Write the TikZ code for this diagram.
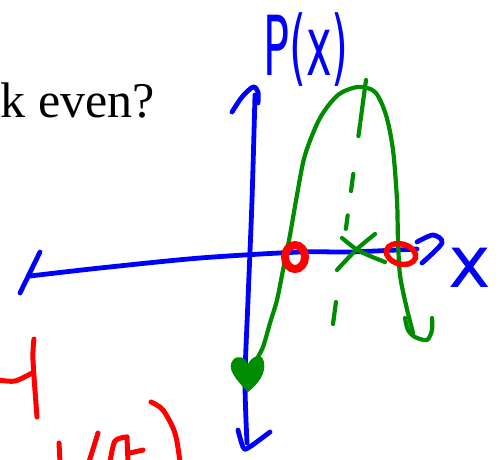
\documentclass[tikz,border=0pt]{standalone}
\usepackage{fontspec}
\setmainfont{Liberation Serif}
\newfontfamily\penfont{DejaVu Sans}
\usetikzlibrary{calc}
\definecolor{penblue}{RGB}{0,0,255}
\definecolor{pengreen}{RGB}{0,140,0}
\definecolor{penred}{RGB}{255,0,0}

\begin{document}
\begin{tikzpicture}[
    x=1pt, y=-1pt,
    bluepen/.style={draw=penblue, line width=4.8pt, line cap=round, line join=round},
    greenpen/.style={draw=pengreen, line width=4.2pt, line cap=round, line join=round},
    redpen/.style={draw=penred, line width=5pt, line cap=round, line join=round},
    penlabel/.style={text=penblue, inner sep=0pt, font=\penfont\fontsize{72}{72}\selectfont}
]
\useasboundingbox (0,0) rectangle (503,459);

% question text
\node[anchor=base west, inner sep=0pt, font=\fontsize{50}{50}\selectfont] (question) at (0.5,117) {k even?};

% axes
\draw[bluepen] plot[smooth] coordinates {(30,276) (100,268) (200,258) (300,252) (350,252) (417,249)};
\draw[bluepen] (40,252) -- (20,293);
\draw[bluepen] plot[smooth] coordinates {(417,242) (433,235) (442,243) (422,263)};
\draw[bluepen] plot[smooth] coordinates {(255,95) (252,200) (248,300) (245,380) (247,443)};
\draw[bluepen] plot[smooth] coordinates {(232,112) (242,97) (253,87) (258,92) (258,103)};
\draw[bluepen] plot[smooth] coordinates {(238,430) (243,447) (248,448) (270,432)};
\node[penlabel, xscale=0.6, yscale=1.15] (plabel) at (306,50) {P(x)};
\node[penlabel] (xlabel) at (470,268) {x};

% parabola
\fill[pengreen] (248,392) .. controls (236,380) and (226,368) .. (233,360)
  .. controls (238,354) and (246,358) .. (248,364)
  .. controls (252,356) and (262,352) .. (264,362)
  .. controls (266,374) and (258,384) .. cycle;
\draw[greenpen] plot[smooth] coordinates {(255,362) (263,347) (270,323) (277,300) (283,270) (290,235) (297,195) (305,155) (320,118) (338,95) (358,87) (375,92) (386,115) (393,150) (397,200) (398,240) (400,275) (406,305) (413,333)};
\draw[greenpen] plot[smooth] coordinates {(405,318) (408,330) (415,337) (427,340) (432,330) (432,318)};
\coordinate (axistop) at (366,80);
\coordinate (axisbot) at (333,324);
\foreach \a/\b in {0/0.17, 0.18/0.23, 0.385/0.455, 0.555/0.61, 0.91/1}
  \draw[greenpen] ($(axistop)!\a!(axisbot)$) -- ($(axistop)!\b!(axisbot)$);
\draw[greenpen] plot[smooth] coordinates {(342,238) (356,249) (370,256) (385,262)};
\draw[greenpen] plot[smooth] coordinates {(375,234) (356,250) (337,270)};

% roots
\draw[penred, line width=8pt] (295,257) ellipse [x radius=10, y radius=12];
\draw[penred, line width=5.5pt, rotate around={-15:(401,254)}] (401,254) ellipse [x radius=15, y radius=10];

% cut-off red writing
\draw[redpen] plot[smooth] coordinates {(-2,380) (15,381) (32,373)};
\draw[redpen] plot[smooth] coordinates {(34,339) (33,360) (37,417)};
\draw[redpen] (59,443) -- (60,462);
\draw[redpen] (98,433) -- (89,462);
\draw[redpen] plot[smooth] coordinates {(127,437) (115,441) (110,462)};
\draw[redpen] (127,437) -- (128,462);
\draw[redpen] (130,453) -- (143,450);
\draw[redpen] plot[smooth] coordinates {(151,402) (163,410) (175,433) (180,462)};
\end{tikzpicture}
\end{document}
